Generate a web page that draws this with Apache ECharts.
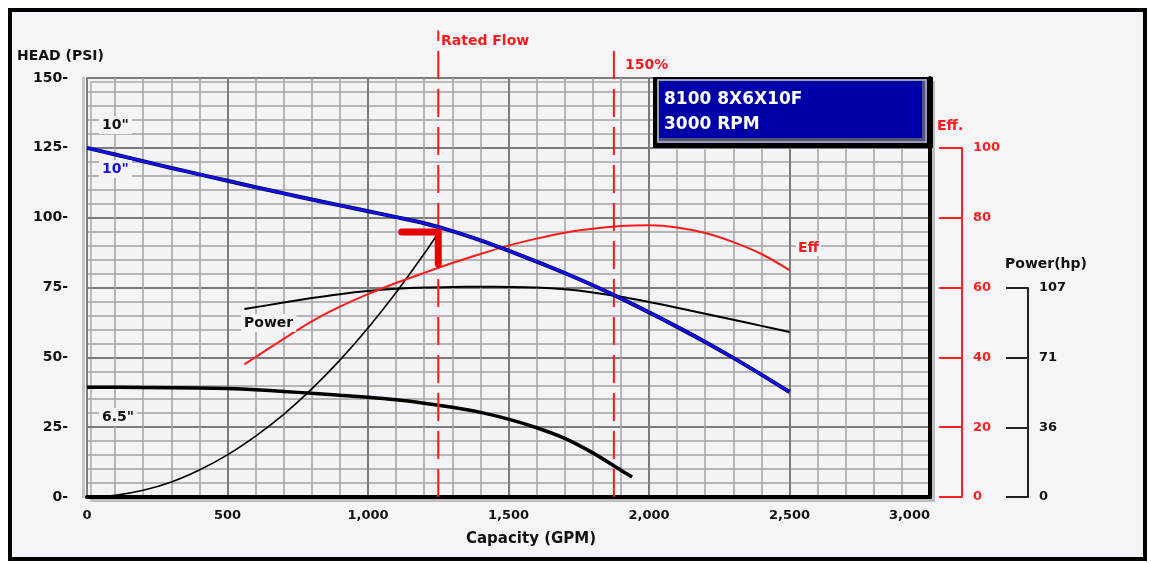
<!DOCTYPE html>
<html>
<head>
<meta charset="utf-8">
<script src="https://cdn.jsdelivr.net/npm/echarts@6/dist/echarts.min.js"></script>
<style>
  html,body{margin:0;padding:0;background:#ffffff;}
  #frame{position:absolute;left:8px;top:8px;width:1131px;height:545px;border:4px solid #000;background:#f5f5f9;}
  #chart{position:absolute;left:0;top:0;width:1151px;height:563px;}
</style>
</head>
<body>
<div id="frame"></div>
<div id="chart"></div>
<script>
// ---------- data (GPM, PSI / % / hp) ----------
const head10 = [[0,125],[100,122.6],[200,120.2],[300,117.8],[400,115.5],[500,113.2],[600,110.9],[700,108.7],[800,106.5],[900,104.4],[1000,102.3],[1100,100.2],[1200,98],[1300,95.2],[1400,91.9],[1500,88.2],[1600,84.3],[1700,80.2],[1800,75.8],[1900,71.1],[2000,66.1],[2100,60.9],[2200,55.5],[2300,49.8],[2400,43.8],[2500,37.6]];
const head65 = [[0,39.3],[200,39.2],[400,39],[500,38.8],[600,38.4],[700,37.8],[800,37.1],[900,36.4],[1000,35.7],[1100,34.8],[1200,33.6],[1300,32.1],[1400,30.3],[1500,27.9],[1600,24.8],[1700,21],[1800,15.8],[1900,9.6],[1940,7.2]];
const systemCurve = [[0,0],[100,0.6],[200,2.4],[300,5.4],[400,9.7],[500,15.1],[600,21.8],[700,29.6],[800,38.7],[900,49],[1000,60.5],[1100,73.2],[1200,87.1],[1240,93]];
const powerHp = [[560,96],[700,99.3],[800,101.6],[900,103.6],[1000,105.2],[1100,106.3],[1200,107],[1300,107.3],[1400,107.4],[1500,107.3],[1600,107],[1700,106.1],[1800,104.5],[1900,102.3],[2000,99.6],[2100,96.7],[2200,93.6],[2300,90.5],[2400,87.4],[2500,84.3]];
const effPct = [[560,38],[700,45.3],[800,50.3],[900,54.5],[1000,58.1],[1100,61.3],[1200,64.2],[1300,67],[1400,69.6],[1500,72],[1600,74],[1700,75.7],[1800,76.8],[1900,77.6],[2000,77.8],[2100,77.2],[2200,75.6],[2300,73],[2400,69.6],[2500,65]];
const ratedMarker = [[1120,94.9],[1250,94.9],[1250,83.5]];
const ratedLine = [[1250,0],[1250,167]];
const line150 = [[1875,0],[1875,162]];
const headRange = [0,150], headStep = 25;
const flowRange = [0,3000], flowStep = 500;
const effRange = [0,100], effStep = 20;
const powerRange = [0,107];
const titleLines = ['8100 8X6X10F','3000 RPM'];

const F = 'DejaVu Sans';
const chart = echarts.init(document.getElementById('chart'), null, {renderer:'canvas'});

const hiddenX = (gi) => ({type:'value', gridIndex:gi, min:0, max:1, show:false});
const curve = (data, yi, color, width, z) => ({type:'line', xAxisIndex:0, yAxisIndex:yi, data:data, showSymbol:false,
  smooth:0.3, lineStyle:{color:color, width:width}, z:z});

chart.setOption({
  animation:false,
  backgroundColor:'transparent',
  grid:[
    {left:87, right:221, top:78, bottom:66, show:true, backgroundColor:'#f3f3f7', borderColor:'#c4c4c4', borderWidth:2,
     shadowColor:'#bdbdbd', shadowOffsetX:4, shadowOffsetY:4, shadowBlur:0},
    {left:940, right:189, top:148, bottom:66},
    {left:1006, right:123, top:288, bottom:66}
  ],
  xAxis:[
    {type:'value', gridIndex:0, min:flowRange[0], max:flowRange[1], interval:flowStep,
     axisLine:{show:true, onZero:false, lineStyle:{color:'#000', width:4}},
     axisTick:{show:false},
     minorTick:{show:false, splitNumber:5},
     minorSplitLine:{show:true, lineStyle:{color:'#a2a2a2', width:1.5}},
     splitLine:{show:true, lineStyle:{color:'#7c7c7c', width:2}},
     axisLabel:{margin:12, color:'#111', fontFamily:F, fontWeight:'bold', fontSize:13,
       alignMaxLabel:'right', formatter:(v)=>v.toLocaleString('en-US')}},
    hiddenX(1), hiddenX(2)
  ],
  yAxis:[
    {type:'value', gridIndex:0, min:headRange[0], max:headRange[1], interval:headStep, offset:4,
     axisLine:{show:true, onZero:false, lineStyle:{color:'#c4c4c4', width:3}},
     axisTick:{show:false},
     minorTick:{show:false, splitNumber:5},
     minorSplitLine:{show:true, lineStyle:{color:'#a2a2a2', width:1.5}},
     splitLine:{show:true, lineStyle:{color:'#7c7c7c', width:2}},
     axisLabel:{margin:15, color:'#111', fontFamily:F, fontWeight:'bold', fontSize:14, formatter:(v)=>v+'-'}},
    {type:'value', gridIndex:0, min:0, max:powerRange[1]*2, show:false},
    {type:'value', gridIndex:0, position:'right', min:0, max:effRange[1]*headRange[1]/125,
     axisLine:{show:true, onZero:false, lineStyle:{color:'#000', width:4}},
     axisTick:{show:false}, axisLabel:{show:false}, splitLine:{show:false}},
    {type:'value', gridIndex:1, position:'right', min:effRange[0], max:effRange[1], interval:effStep,
     axisLine:{show:true, onZero:false, lineStyle:{color:'#ff2020', width:2}},
     axisTick:{show:true, inside:true, length:23, lineStyle:{color:'#ff2020', width:2}},
     splitLine:{show:false},
     axisLabel:{margin:11, color:'#ff2020', fontFamily:F, fontWeight:'bold', fontSize:13}},
    {type:'value', gridIndex:2, position:'right', min:powerRange[0], max:powerRange[1], interval:powerRange[1]/3,
     axisLine:{show:true, onZero:false, lineStyle:{color:'#222', width:2}},
     axisTick:{show:true, inside:true, length:22, lineStyle:{color:'#222', width:2}},
     splitLine:{show:false},
     axisLabel:{margin:11, color:'#111', fontFamily:F, fontWeight:'bold', fontSize:13, formatter:(v)=>String(Math.round(v))}}
  ],
  series:[
    curve(systemCurve, 0, '#000', 1.6, 3),
    curve(head65, 0, '#000', 3.5, 3),
    curve(powerHp, 1, '#000', 2, 3),
    curve(effPct, 2, '#ff1a1a', 2, 3),
    {type:'line', xAxisIndex:0, yAxisIndex:0, data:ratedLine, showSymbol:false, clip:false, lineStyle:{color:'#ff1a1a', width:2, type:[28,10]}, z:4},
    {type:'line', xAxisIndex:0, yAxisIndex:0, data:line150, showSymbol:false, clip:false, lineStyle:{color:'#ff1a1a', width:2, type:[28,10]}, z:4},
    curve(head10, 0, '#000040', 4, 5),
    curve(head10, 0, '#1010f0', 2.6, 6),
    {type:'line', xAxisIndex:0, yAxisIndex:0, data:ratedMarker, showSymbol:false, lineStyle:{color:'#e80000', width:7, cap:'round', join:'miter'}, z:7}
  ],
  graphic:[
    {type:'text', z:100, x:17, y:56, style:{text:'HEAD (PSI)', font:'bold 14px "DejaVu Sans"', fill:'#111', textVerticalAlign:'middle'}},
    {type:'text', z:100, x:531, y:539, style:{text:'Capacity (GPM)', font:'bold 15px "DejaVu Sans"', fill:'#111', textAlign:'center', textVerticalAlign:'middle'}},
    {type:'text', z:100, x:441, y:41, style:{text:'Rated Flow', font:'bold 14px "DejaVu Sans"', fill:'#ff1a1a', textVerticalAlign:'middle'}},
    {type:'text', z:100, x:625, y:65, style:{text:'150%', font:'bold 14px "DejaVu Sans"', fill:'#ff1a1a', textVerticalAlign:'middle'}},
    {type:'text', z:100, x:937, y:126, style:{text:'Eff.', font:'bold 14px "DejaVu Sans"', fill:'#ff1a1a', textVerticalAlign:'middle'}},
    {type:'text', z:100, x:1005, y:264, style:{text:'Power(hp)', font:'bold 14px "DejaVu Sans"', fill:'#111', textVerticalAlign:'middle'}},
    {type:'text', z:100, x:99, y:125, style:{text:'10"', font:'bold 14px "DejaVu Sans"', fill:'#111', textVerticalAlign:'middle', backgroundColor:'#f3f3f7', padding:[2,3]}},
    {type:'text', z:100, x:99, y:169, style:{text:'10"', font:'bold 14px "DejaVu Sans"', fill:'#1010f0', textVerticalAlign:'middle', backgroundColor:'#f3f3f7', padding:[2,3]}},
    {type:'text', z:100, x:241, y:323, style:{text:'Power', font:'bold 14px "DejaVu Sans"', fill:'#111', textVerticalAlign:'middle', backgroundColor:'#f3f3f7', padding:[2,3]}},
    {type:'text', z:100, x:99, y:417, style:{text:'6.5"', font:'bold 14px "DejaVu Sans"', fill:'#111', textVerticalAlign:'middle', backgroundColor:'#f3f3f7', padding:[2,3]}},
    {type:'text', z:100, x:796, y:248, style:{text:'Eff', font:'bold 14px "DejaVu Sans"', fill:'#ff1a1a', textVerticalAlign:'middle', backgroundColor:'#f3f3f7', padding:[1,2]}},
    {type:'rect', z:100, shape:{x:653, y:77, width:280, height:71}, style:{fill:'#000'}},
    {type:'rect', z:101, shape:{x:657, y:79, width:270, height:64}, style:{fill:'#9a9ab4'}},
    {type:'rect', z:102, shape:{x:659, y:81, width:266, height:60}, style:{fill:'#55557a'}},
    {type:'rect', z:103, shape:{x:659, y:81, width:263, height:57}, style:{fill:'#0000a8'}},
    {type:'text', z:104, x:664, y:100, style:{text:titleLines[0], font:'bold 17px "DejaVu Sans"', fill:'#ffffff', textVerticalAlign:'middle'}},
    {type:'text', z:104, x:664, y:125, style:{text:titleLines[1], font:'bold 17px "DejaVu Sans"', fill:'#ffffff', textVerticalAlign:'middle'}}
  ]
});
</script>
</body>
</html>
